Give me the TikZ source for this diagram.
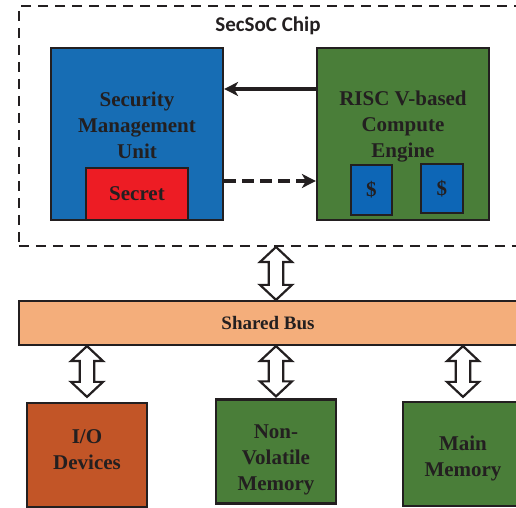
\documentclass[tikz,border=0pt]{standalone}
\usepackage{fontspec}
\setmainfont{Liberation Serif}
\newfontfamily\chipfont{Carlito}
\usetikzlibrary{arrows.meta,calc}
\definecolor{inkgray}{HTML}{231F20}
\definecolor{smublue}{HTML}{176DB4}
\definecolor{cacheblue}{HTML}{0D66B6}
\definecolor{secretred}{HTML}{ED1C24}
\definecolor{enggreen}{HTML}{4A7E39}
\definecolor{ioorange}{HTML}{C25527}
\definecolor{busorange}{HTML}{F4AE7B}

% hollow two-headed bus arrow, from #1 (top) down to #2
\newcommand{\dualarrow}[2]{%
  \draw[draw=inkgray, fill=white, line width=1.1pt] let \p1=(#1), \p2=(#2) in
    (\x1,\y1) -- (\x1+8pt,\y1-7.5pt) -- (\x1+3.6pt,\y1-7.5pt) -- (\x1+3.6pt,\y2+7.5pt)
    -- (\x1+8pt,\y2+7.5pt) -- (\x1,\y2) -- (\x1-8pt,\y2+7.5pt) -- (\x1-3.6pt,\y2+7.5pt)
    -- (\x1-3.6pt,\y1-7.5pt) -- (\x1-8pt,\y1-7.5pt) -- cycle;}

\begin{document}
\begin{tikzpicture}[x=0.5pt, y=-0.5pt,
    box/.style={draw=inkgray, line width=1.1pt, inner sep=0pt, text=inkgray, align=center,
      font=\bfseries\fontsize{10.5}{13}\selectfont},
    boxtext/.style={text=inkgray, align=center, font=\bfseries\fontsize{10.5}{13}\selectfont},
    unit/.style={box, minimum width=60pt, minimum height=52pt},
    link/.style={draw=inkgray, line width=2.2pt, -{Stealth[length=7pt, width=7pt, inset=2pt]}}]
  \useasboundingbox (0,0) rectangle (516,508);

  % chip outline
  \node[draw=inkgray, line width=1pt, dash pattern=on 5pt off 3.5pt, inner sep=0pt,
    minimum width=249pt, minimum height=120pt] (chip) at (268,126) {};
  \node[text=inkgray, font=\chipfont\bfseries\fontsize{10.5}{13}\selectfont, anchor=base]
    (chiptitle) at ([yshift=-13.5pt]chip.north) {SecSoC Chip};

  % security management unit and its secret
  \node[box, fill=smublue, minimum size=86pt] (smu) at (137,134) {};
  \node[boxtext] (smutext) at ([yshift=4.5pt]smu.center) {Security\\Management\\Unit};
  \node[box, fill=secretred, minimum width=51pt, minimum height=26pt, anchor=south]
    (secret) at (smu.south) {Secret};

  % compute engine with two caches
  \node[box, fill=enggreen, minimum size=86pt] (risc) at (403,134) {};
  \node[boxtext] (risctext) at ([yshift=3.5pt]risc.center) {RISC V-based\\Compute\\Engine};
  \node[box, fill=cacheblue, minimum width=20.5pt, minimum height=25pt] (cachea) at (371.5,190) {\$};
  \node[box, fill=cacheblue, minimum width=21pt, minimum height=24.5pt] (cacheb) at (442,188.5) {\$};

  % requests and leakage between the two
  \draw[link] ([yshift=22.5pt]risc.west) -- ([yshift=22.5pt]smu.east);
  \draw[link, dash pattern=on 6pt off 3pt] ([yshift=-23.5pt]smu.east) -- ([yshift=-23.5pt]risc.west);

  % shared bus
  \node[box, fill=busorange, minimum width=249pt, minimum height=22pt,
    font=\bfseries\fontsize{9.5}{11}\selectfont] (bus) at (268,323) {Shared Bus};

  % peripherals
  \node[unit, fill=ioorange] (io) at (87,455) {};
  \node[boxtext] (iotext) at ([yshift=2.5pt]io.center) {I/O\\Devices};
  \node[unit, fill=enggreen] (nvm) at (276,451.5) {};
  \node[boxtext] (nvmtext) at ([yshift=-4pt]nvm.center) {Non-\\Volatile\\Memory};
  \node[unit, fill=enggreen] (mem) at (463,454) {};
  \node[boxtext] (memtext) at ([yshift=-2pt]mem.center) {Main\\Memory};

  % bus connections
  \dualarrow{chip.south -| nvm.north}{bus.north -| nvm.north}
  \dualarrow{bus.south -| io.north}{[yshift=2.5pt]io.north}
  \dualarrow{bus.south -| nvm.north}{[yshift=1pt]nvm.north}
  \dualarrow{bus.south -| mem.north}{[yshift=2pt]mem.north}
\end{tikzpicture}
\end{document}
